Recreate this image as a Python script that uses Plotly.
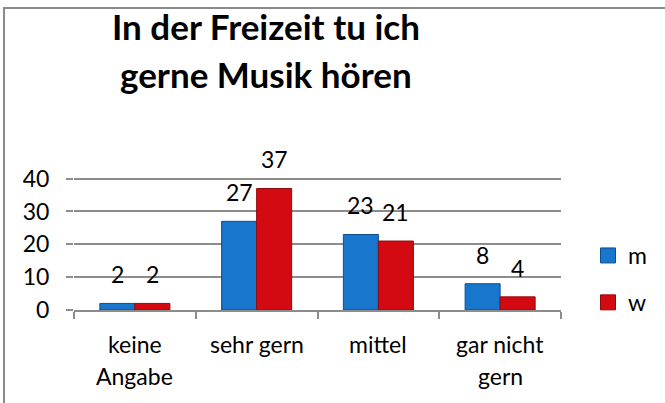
import plotly.graph_objects as go

# Survey answers: "In der Freizeit tu ich gerne Musik hören"
categories = ["keine Angabe", "sehr gern", "mittel", "gar nicht gern"]
category_lines = [["keine", "Angabe"], ["sehr gern"], ["mittel"], ["gar nicht", "gern"]]
m_values = [2, 27, 23, 8]
w_values = [2, 37, 21, 4]
y_ticks = [0, 10, 20, 30, 40]
title_lines = ["In der Freizeit tu ich", "gerne Musik hören"]

FONT = "Lato"
FS = 23
BLUE, BLUE_EDGE = "#1877cc", "#0d4f8f"
RED, RED_EDGE = "#d40a12", "#8f0a0d"
GRID = "#8c8c8c"

W, H = 665, 403
L, R, T, B = 74, 104, 177, 93
Y_MAX = 40.5
plot_w = W - L - R
plot_h = H - T - B


def px_x(px):
    return (px - L) / plot_w


def px_y(py):
    return (H - B - py) / plot_h


fig = go.Figure()
fig.add_trace(go.Bar(
    x=categories, y=m_values, name="m", showlegend=False,
    marker=dict(color=BLUE, line=dict(color=BLUE_EDGE, width=1)),
))
fig.add_trace(go.Bar(
    x=categories, y=w_values, name="w", showlegend=False,
    marker=dict(color=RED, line=dict(color=RED_EDGE, width=1)),
))
# legend entries with larger square keys
for name, col, edge in (("m", BLUE, BLUE_EDGE), ("w", RED, RED_EDGE)):
    fig.add_trace(go.Scatter(
        x=[None], y=[None], mode="markers", name=name, legendgroup=name,
        marker=dict(symbol="square", size=15, color=col, line=dict(color=edge, width=1)),
    ))

annotations = []
# value labels above each bar
bar_px = plot_w / len(categories) * (1 - 0.425) / 2
for vals, shift in ((m_values, -bar_px / 2), (w_values, bar_px / 2)):
    for cat, v in zip(categories, vals):
        annotations.append(dict(
            x=cat, y=v, xref="x", yref="y", text=str(v), showarrow=False,
            xanchor="center", yanchor="bottom", xshift=shift, yshift=13,
            font=dict(family=FONT, size=FS, color="black"),
        ))

# category labels, one annotation per line
for cat, lines in zip(categories, category_lines):
    for i, line in enumerate(lines):
        annotations.append(dict(
            x=cat, y=px_y(344 + i * 32), xref="x", yref="paper", text=line,
            showarrow=False, xanchor="center", yanchor="middle",
            font=dict(family=FONT, size=FS, color="black"),
        ))

# two-line bold title
for i, line in enumerate(title_lines):
    annotations.append(dict(
        x=px_x(266), y=px_y(26 + i * 48), xref="paper", yref="paper",
        text=f"<b>{line}</b>", showarrow=False, xanchor="center", yanchor="middle",
        font=dict(family=FONT, size=35, color="black"),
    ))

# chart frame (top and left edges)
shapes = [
    dict(type="line", xref="paper", yref="paper", x0=px_x(4), x1=px_x(W + 2),
         y0=px_y(8), y1=px_y(8), line=dict(color="#8a8a8a", width=2)),
    dict(type="line", xref="paper", yref="paper", x0=px_x(4), x1=px_x(4),
         y0=px_y(7), y1=px_y(H + 2), line=dict(color="#8a8a8a", width=2)),
]

fig.update_layout(
    width=W, height=H,
    margin=dict(l=L, r=R, t=T, b=B),
    paper_bgcolor="white", plot_bgcolor="white",
    barmode="group", bargap=0.425, bargroupgap=0,
    font=dict(family=FONT, size=FS, color="black"),
    showlegend=True,
    legend=dict(
        xref="container", yref="container", x=588 / W, y=1 - 234 / H,
        xanchor="left", yanchor="top", tracegroupgap=14,
        font=dict(family=FONT, size=FS, color="black"),
        bgcolor="rgba(0,0,0,0)", itemwidth=30,
    ),
    xaxis=dict(
        showline=True, linecolor=GRID, linewidth=1.5,
        ticks="outside", tickson="boundaries", ticklen=7, tickcolor=GRID, tickwidth=1.5,
        showticklabels=False, showgrid=False, zeroline=False,
    ),
    yaxis=dict(
        range=[0, Y_MAX], tickvals=y_ticks, ticktext=[str(t) for t in y_ticks],
        showgrid=True, gridcolor=GRID, gridwidth=1.5,
        showline=False, zeroline=False,
        ticks="outside", ticklen=7, tickcolor=GRID, tickwidth=1.5,
        ticklabelstandoff=12,
        tickfont=dict(family=FONT, size=FS, color="black"),
    ),
    annotations=annotations, shapes=shapes,
)

fig.write_html("out.html")
